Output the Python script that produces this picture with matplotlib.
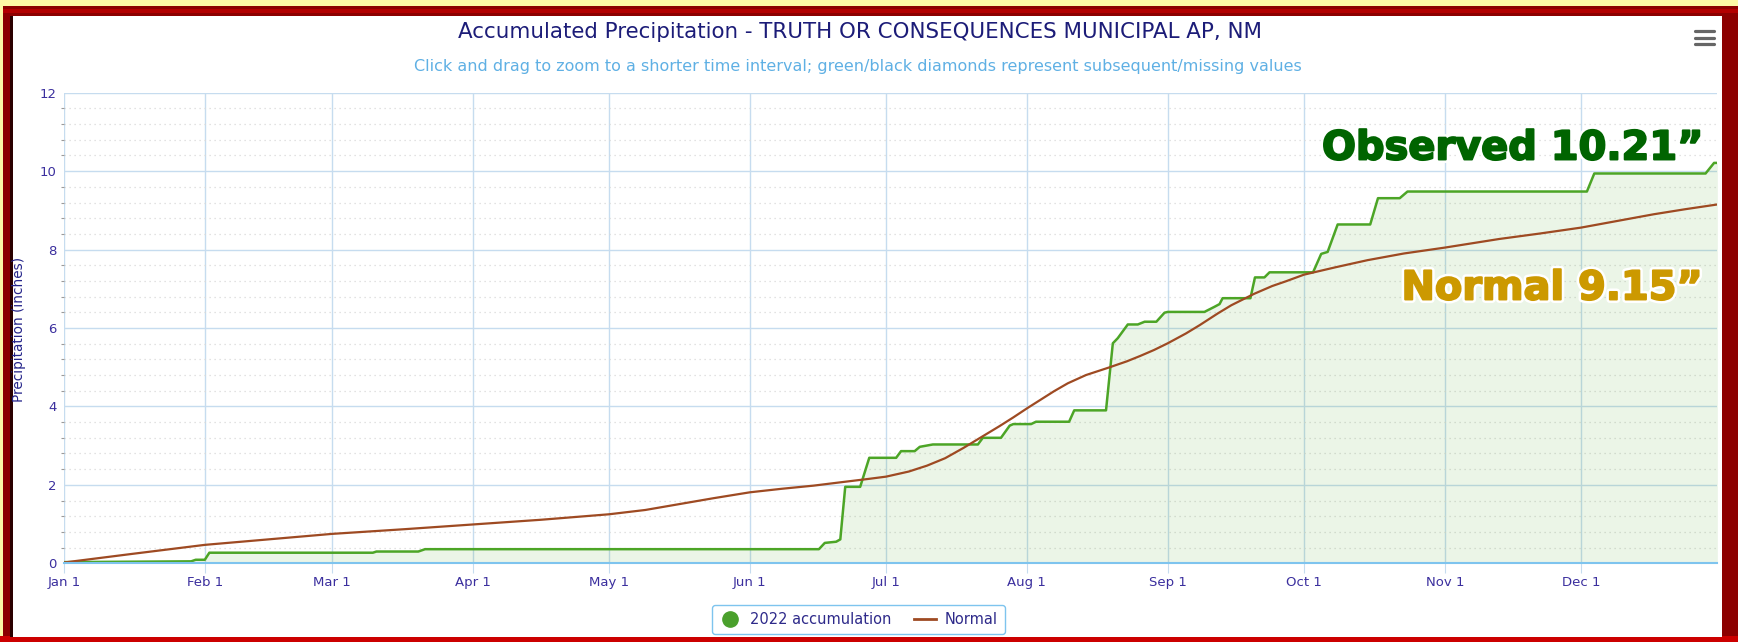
import numpy as np
import matplotlib
matplotlib.use('Agg')
import matplotlib.pyplot as plt
from matplotlib.patches import Rectangle
from matplotlib.lines import Line2D
import matplotlib.patheffects as pe

# ---------------- data ----------------
title = "Accumulated Precipitation - TRUTH OR CONSEQUENCES MUNICIPAL AP, NM"
subtitle = ("Click and drag to zoom to a shorter time interval; "
            "green/black diamonds represent subsequent/missing values")
ylabel = "Precipitation (inches)"
year_start = '2022-01-01'
year_end = '2022-12-31'
month_ticks = ['2022-01-01', '2022-02-01', '2022-03-01', '2022-04-01', '2022-05-01', '2022-06-01',
               '2022-07-01', '2022-08-01', '2022-09-01', '2022-10-01', '2022-11-01', '2022-12-01']
month_labels = ['Jan 1', 'Feb 1', 'Mar 1', 'Apr 1', 'May 1', 'Jun 1',
                'Jul 1', 'Aug 1', 'Sep 1', 'Oct 1', 'Nov 1', 'Dec 1']
y_ticks = [0, 2, 4, 6, 8, 10, 12]
legend_labels = ['2022 accumulation', 'Normal']
obs_label = "Observed 10.21\u201d"
normal_label = "Normal 9.15\u201d"

# day of year (0 = Jan 1) and accumulated inches, 2022
obs_days = [0, 28.0, 29.0, 31.0, 32.0, 68.0, 68.8, 78.0, 79.5, 166.2, 167.5, 170.0, 170.9, 172.0,
            175.3, 177.3, 183.2, 184.3, 187.3, 188.4, 191.3, 201.2, 202.3, 206.3, 208.2, 209.0,
            212.9, 214.0, 221.3, 222.4, 229.4, 230.9, 232.0, 234.2, 236.4, 237.9, 240.5, 242.3,
            243.0, 251.1, 253.3, 254.4, 255.1, 261.2, 262.2, 264.3, 265.4, 275.0, 276.8, 278.2,
            280.4, 287.6, 289.3, 294.1, 295.8, 335.3, 336.9, 361.4, 363.3, 364.0]
obs_vals = [0.03, 0.05, 0.09, 0.09, 0.27, 0.27, 0.30, 0.30, 0.36, 0.36, 0.52, 0.55, 0.61, 1.95,
            1.95, 2.69, 2.69, 2.86, 2.86, 2.97, 3.03, 3.03, 3.20, 3.20, 3.51, 3.55,
            3.55, 3.61, 3.61, 3.90, 3.90, 5.61, 5.74, 6.09, 6.09, 6.16, 6.16, 6.39,
            6.41, 6.41, 6.54, 6.61, 6.76, 6.76, 7.29, 7.29, 7.42, 7.42, 7.89, 7.94,
            8.64, 8.64, 9.31, 9.31, 9.48, 9.48, 9.94, 9.94, 10.21, 10.21]

normal_days = [0, 15, 31, 45, 59, 75, 90, 105, 120, 128, 135, 143, 151, 158, 165, 172, 177, 181,
               186, 190, 194, 198, 202, 206, 209, 212, 215, 218, 221, 225, 230, 234, 237, 240,
               243, 247, 250, 254, 257, 262, 266, 269, 273, 280, 287, 295, 304, 316, 325, 334,
               342, 350, 357, 364]
normal_vals = [0.02, 0.24, 0.47, 0.61, 0.75, 0.87, 0.99, 1.11, 1.25, 1.36, 1.50, 1.66, 1.81, 1.90,
               1.98, 2.08, 2.15, 2.21, 2.34, 2.49, 2.68, 2.94, 3.22, 3.50, 3.72, 3.95, 4.17,
               4.39, 4.59, 4.80, 4.99, 5.15, 5.29, 5.44, 5.61, 5.86, 6.07, 6.37, 6.58, 6.87,
               7.07, 7.19, 7.36, 7.55, 7.73, 7.90, 8.05, 8.27, 8.41, 8.56, 8.73, 8.90, 9.03, 9.15]

# ---------------- helpers ----------------
W, H, DPI = 1738, 642, 100
fig = plt.figure(figsize=(W / DPI, H / DPI), dpi=DPI)
fig.patch.set_facecolor('#fdf9a6')


def fx(x):
    return x / W


def fy(y):
    return 1 - y / H


def to_dates(days):
    hours = np.round(np.asarray(days, dtype=float) * 24).astype('int64')
    return np.datetime64(year_start, 'h') + hours.astype('timedelta64[h]')


# ---------------- frame ----------------
fig.add_artist(Rectangle((fx(3), fy(642)), fx(1735), 636 / H, transform=fig.transFigure,
                         facecolor='#8c0000', edgecolor='none', zorder=0))
fig.add_artist(Rectangle((fx(3), fy(13)), fx(1735), 4 / H, transform=fig.transFigure,
                         facecolor='#b30000', edgecolor='none', zorder=0))
fig.add_artist(Rectangle((fx(0), fy(642)), 1, 6 / H, transform=fig.transFigure,
                         facecolor='#cc0000', edgecolor='none', zorder=0))
fig.add_artist(Rectangle((fx(10), fy(637)), fx(3), 621 / H, transform=fig.transFigure,
                         facecolor='#2a0000', edgecolor='none', zorder=0))
fig.add_artist(Rectangle((fx(13), fy(637)), fx(1709), 621 / H, transform=fig.transFigure,
                         facecolor='white', edgecolor='none', zorder=0))

# ---------------- axes ----------------
ax = fig.add_axes([fx(64), fy(563.3), fx(1717.3 - 64), (563.3 - 92.7) / H])
ax.set_facecolor('white')

od = to_dates(obs_days)
nd = to_dates(normal_days)
ax.fill_between(od, obs_vals, 0, color='#4ca526', alpha=0.11, linewidth=0, zorder=2)
ax.plot(od, obs_vals, color='#4ca526', lw=1.8, zorder=4, solid_joinstyle='round')
ax.plot(nd, normal_vals, color='#9e4a22', lw=1.6, zorder=5, solid_joinstyle='round')

ax.set_xlim(np.datetime64(year_start), np.datetime64(year_end))
ax.set_ylim(0, 12)

ax.set_xticks([np.datetime64(d) for d in month_ticks])
ax.set_xticklabels(month_labels)
ax.set_yticks(y_ticks)
ax.set_yticklabels([str(v) for v in y_ticks])
minor = [v for v in np.arange(0, 12.01, 0.4) if abs(v / 2 - round(v / 2)) > 1e-6]
ax.set_yticks(minor, minor=True)

ax.grid(which='major', axis='both', color='#c6dcef', lw=1.0, zorder=1)
ax.yaxis.grid(which='minor', color='#d9d9d9', lw=0.9, ls=(0, (1, 3)), zorder=1)
ax.set_axisbelow(True)

tick_color = '#3b2f9e'
ax.tick_params(axis='x', which='major', length=7.5, width=0.8, color='#c6dcef',
               labelsize=9.5, labelcolor=tick_color, pad=1.5)
ax.tick_params(axis='y', which='major', length=0, labelsize=9.5, labelcolor=tick_color, pad=5.3)
ax.tick_params(axis='y', which='minor', length=2.2, width=0.8, color='#9a9a9a')
for s in ['left', 'top', 'right']:
    ax.spines[s].set_visible(False)
ax.spines['bottom'].set_color('#7ec4ee')
ax.spines['bottom'].set_linewidth(1.5)
ax.spines['bottom'].set_zorder(6)

# ---------------- texts ----------------
renderer = fig.canvas.get_renderer()


def fit(t, target_w):
    bb = t.get_window_extent(renderer)
    t.set_fontsize(t.get_fontsize() * target_w / bb.width)


t1 = fig.text(fx(859.5), fy(37.7), title, ha='center', va='baseline', fontsize=13,
              color='#1c1c78', family='DejaVu Sans')
fit(t1, 802)
t2 = fig.text(fx(858.3), fy(70.7), subtitle, ha='center', va='baseline', fontsize=10.5,
              color='#5fb0e4', family='DejaVu Sans')
fit(t2, 892)

fig.text(fx(19.5), fy(329), ylabel, rotation=90, ha='center', va='center', fontsize=9.8,
         color='#24248a')


def heavy(color):
    return [pe.Stroke(linewidth=5, foreground='white'),
            pe.Stroke(linewidth=1.4, foreground=color),
            pe.Normal()]


t3 = fig.text(fx(1322), fy(159.5), obs_label, ha='left', va='baseline', fontsize=29,
              fontweight='bold', color='#006400', path_effects=heavy('#006400'))
fit(t3, 381)
t4 = fig.text(fx(1401.5), fy(299.5), normal_label, ha='left', va='baseline', fontsize=29,
              fontweight='bold', color='#cc9900', path_effects=heavy('#cc9900'))
fit(t4, 301)

# hamburger menu
for yy in (31, 37.5, 44):
    fig.add_artist(Line2D([fx(1695), fx(1714)], [fy(yy), fy(yy)], transform=fig.transFigure,
                          color='#666666', lw=2.3, solid_capstyle='round'))

# ---------------- legend ----------------
handles = [Line2D([], [], marker='o', ls='none', markersize=11, markerfacecolor='#4aa02c',
                  markeredgecolor='#4aa02c'),
           Line2D([], [], color='#9e4a22', lw=2)]
leg = fig.legend(handles, legend_labels, loc='center', ncol=2,
                 bbox_to_anchor=(fx(858.5), fy(619.5)), frameon=True, fancybox=True,
                 fontsize=10.5, handlelength=1.5, handletextpad=0.6, columnspacing=1.6,
                 borderpad=0.45, labelcolor='#2e2a8a')
leg.get_frame().set_edgecolor('#7ec4ee')
leg.get_frame().set_linewidth(1.0)
leg.get_frame().set_facecolor('white')
leg.get_frame().set_alpha(1)

fig.savefig('out.png', dpi=DPI, facecolor=fig.get_facecolor())
